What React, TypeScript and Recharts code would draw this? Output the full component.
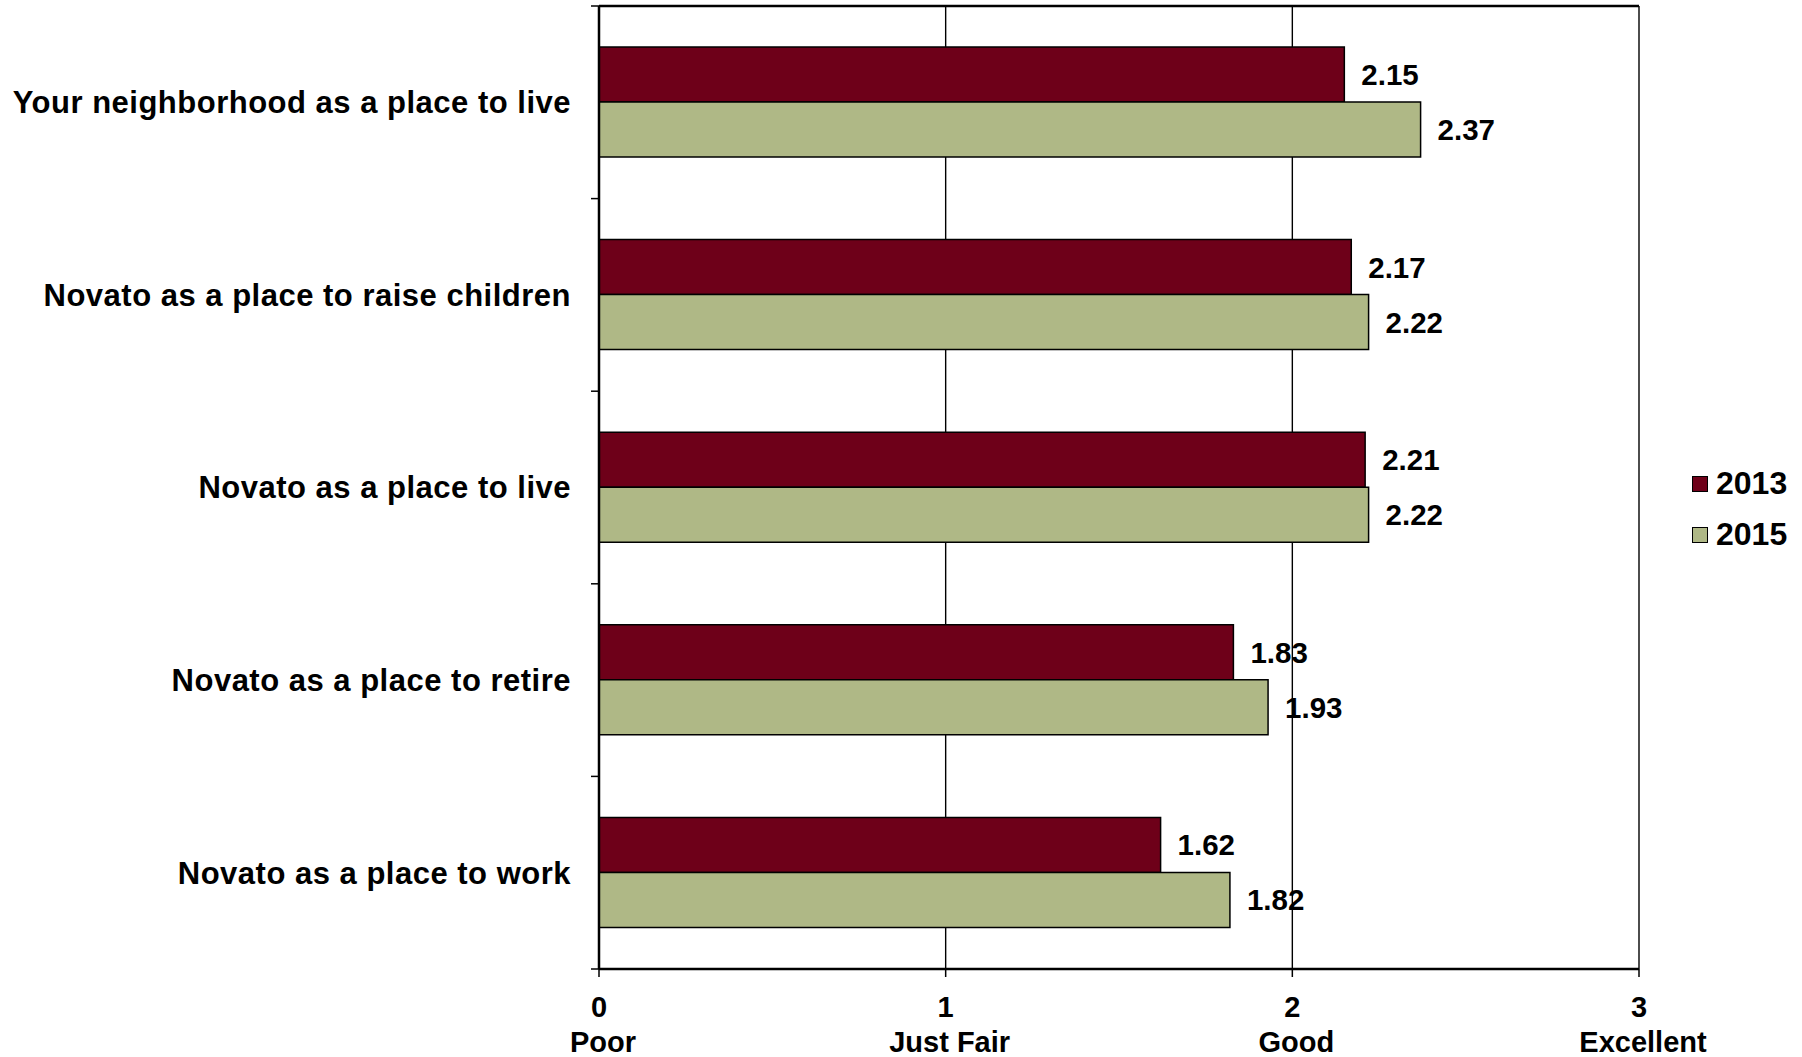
import React from "react";
import {
  BarChart,
  Bar,
  XAxis,
  YAxis,
  CartesianGrid,
  LabelList,
  Legend,
} from "recharts";

// Survey categories (top to bottom) and mean ratings per survey year
const categories = [
  "Your neighborhood as a place to live",
  "Novato as a place to raise children",
  "Novato as a place to live",
  "Novato as a place to retire",
  "Novato as a place to work",
];
const values2013 = [2.15, 2.17, 2.21, 1.83, 1.62];
const values2015 = [2.37, 2.22, 2.22, 1.93, 1.82];

// Rating scale ticks
const scaleTicks = [0, 1, 2, 3];
const scaleLabels = ["Poor", "Just Fair", "Good", "Excellent"];

const seriesNames = ["2013", "2015"];
const seriesColors = ["#6E0019", "#AFB886"];

const data = categories.map((name, i) => ({
  name,
  y2013: values2013[i],
  y2015: values2015[i],
}));

const CHART_W = 1802;
const CHART_H = 1057;
const TOP_AXIS_H = 1;
const MARGIN = { top: 5, right: 0, bottom: 0, left: 0 };
const LEGEND_W = 163;
const YAXIS_W = 599;
const XAXIS_H = 88;
const FONT = "'Liberation Sans', Arial, sans-serif";

const plotHeight = CHART_H - MARGIN.top - TOP_AXIS_H - MARGIN.bottom - XAXIS_H;
const bandSize = plotHeight / categories.length;

const CategoryTick = (props: any) => {
  const { x, y, payload, index } = props;
  const half = bandSize / 2;
  return (
    <g>
      <line x1={x - 8} x2={x} y1={y - half} y2={y - half} stroke="#000" strokeWidth={1.5} />
      {index === categories.length - 1 && (
        <line x1={x - 8} x2={x} y1={y + half} y2={y + half} stroke="#000" strokeWidth={1.5} />
      )}
      <text
        x={x - 28}
        y={y}
        dy="0.35em"
        textAnchor="end"
        fontFamily={FONT}
        fontWeight="bold"
        fontSize={31}
        letterSpacing={0.5}
        fill="#000"
      >
        {payload.value}
      </text>
    </g>
  );
};

const ScaleTick = (props: any) => {
  const { x, y, payload } = props;
  const idx = scaleTicks.indexOf(payload.value);
  return (
    <g fontFamily={FONT} fontWeight="bold" fontSize={29} fill="#000">
      <text x={x} y={y + 38} textAnchor="middle">
        {payload.value}
      </text>
      <text x={x + 4} y={y + 73} textAnchor="middle">
        {scaleLabels[idx]}
      </text>
    </g>
  );
};

const LegendContent = () => (
  <div style={{ paddingLeft: 53, fontFamily: FONT }}>
    {seriesNames.map((n, i) => (
      <div
        key={n}
        style={{
          display: "flex",
          alignItems: "center",
          height: 51,
          fontWeight: "bold",
          fontSize: 32,
          color: "#000",
        }}
      >
        <span
          style={{
            display: "inline-block",
            width: 14,
            height: 14,
            background: seriesColors[i],
            border: "1.5px solid #000",
            marginRight: 8,
          }}
        />
        <span>{n}</span>
      </div>
    ))}
  </div>
);

const labelStyle = {
  fontFamily: FONT,
  fontWeight: "bold" as const,
  fontSize: 29.5,
  fill: "#000",
};

export default function App() {
  return (
    <div style={{ position: "absolute", left: 0, top: 0, background: "#fff" }}>
      <BarChart
        width={CHART_W}
        height={CHART_H}
        data={data}
        layout="vertical"
        margin={MARGIN}
        barGap={0}
      >
        <CartesianGrid horizontal={false} vertical stroke="#000" strokeWidth={1.4} />
        <XAxis
          type="number"
          domain={[0, 3]}
          ticks={scaleTicks}
          interval={0}
          height={XAXIS_H}
          axisLine={{ stroke: "#000", strokeWidth: 2.5 }}
          tickLine={{ stroke: "#000", strokeWidth: 1.5 }}
          tickSize={8}
          tick={<ScaleTick />}
        />
        <XAxis
          xAxisId="top"
          orientation="top"
          type="number"
          domain={[0, 3]}
          height={TOP_AXIS_H}
          tick={false}
          tickLine={false}
          axisLine={{ stroke: "#000", strokeWidth: 2.5 }}
        />
        <YAxis
          type="category"
          dataKey="name"
          width={YAXIS_W}
          axisLine={{ stroke: "#000", strokeWidth: 2.5 }}
          tickLine={false}
          tickSize={0}
          tickMargin={0}
          interval={0}
          tick={<CategoryTick />}
        />
        <Legend
          layout="vertical"
          align="right"
          verticalAlign="middle"
          content={<LegendContent />}
          wrapperStyle={{ width: LEGEND_W, top: 458, right: 0 }}
        />
        <Bar
          dataKey="y2013"
          name={seriesNames[0]}
          fill={seriesColors[0]}
          stroke="#000"
          strokeWidth={1.5}
          barSize={55}
          isAnimationActive={false}
        >
          <LabelList dataKey="y2013" position="right" offset={17} style={labelStyle} formatter={(v: any) => Number(v).toFixed(2)} />
        </Bar>
        <Bar
          dataKey="y2015"
          name={seriesNames[1]}
          fill={seriesColors[1]}
          stroke="#000"
          strokeWidth={1.5}
          barSize={55}
          isAnimationActive={false}
        >
          <LabelList dataKey="y2015" position="right" offset={17} style={labelStyle} formatter={(v: any) => Number(v).toFixed(2)} />
        </Bar>
      </BarChart>
    </div>
  );
}
